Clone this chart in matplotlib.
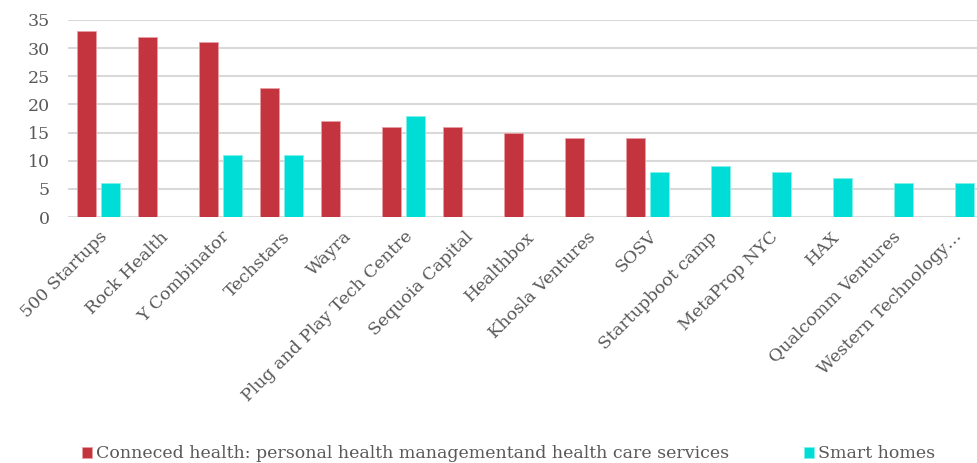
import numpy as np
from matplotlib import pyplot as plt

categories = ['500 Startups', 'Rock Health', 'Y Combinator', 'Techstars', 'Wayra',
              'Plug and Play Tech Centre', 'Sequoia Capital', 'Healthbox',
              'Khosla Ventures', 'SOSV', 'Startupboot camp', 'MetaProp NYC', 'HAX',
              'Qualcomm Ventures', 'Western Technology…']
health = [33, 32, 31, 23, 17, 16, 16, 15, 14, 14, 0, 0, 0, 0, 0]
smart_homes = [6, 0, 11, 11, 0, 18, 0, 0, 0, 8, 9, 8, 7, 6, 6]
series_names = ['Conneced health: personal health managementand health care services',
                'Smart homes']

red = '#C3343F'
cyan = '#00DCD6'
grey_text = '#595959'
plt.rcParams['font.family'] = ['DejaVu Serif']

fig = plt.figure(figsize=(9.77, 4.63), dpi=100)
ax = fig.add_axes([0.0696, 0.531, 0.937, 0.426])

x = np.arange(len(categories))
w = 0.31
ax.bar(x - w / 2 - 0.04, health, width=w, color=red, edgecolor='#E8A0A5', linewidth=0.6,
       label=series_names[0], zorder=3)
ax.bar(x + w / 2 + 0.04, smart_homes, width=w, color=cyan, edgecolor='#7FF0EC', linewidth=0.6,
       label=series_names[1], zorder=3)

ax.set_ylim(0, 35)
ax.set_yticks(range(0, 36, 5))
ax.set_xlim(-0.5, len(categories) - 0.5)
ax.set_xticks(x)
ax.set_xticklabels(categories, rotation=45, ha='right', rotation_mode='anchor',
                   fontsize=12.5, color=grey_text)
ax.tick_params(axis='y', labelsize=12.5, colors=grey_text, length=0, pad=13)
ax.tick_params(axis='x', length=0, pad=8)
ax.grid(axis='y', color='#D9D9D9', linewidth=1.5, zorder=0)
for s in ax.spines.values():
    s.set_visible(False)

leg = fig.legend(loc='lower left', bbox_to_anchor=(0.068, -0.032), ncol=2, frameon=False,
                 fontsize=12.5, handlelength=0.6, handleheight=0.6, handletextpad=0.2,
                 columnspacing=4.3)
for t in leg.get_texts():
    t.set_color(grey_text)

fig.savefig('out.png', dpi=100)
